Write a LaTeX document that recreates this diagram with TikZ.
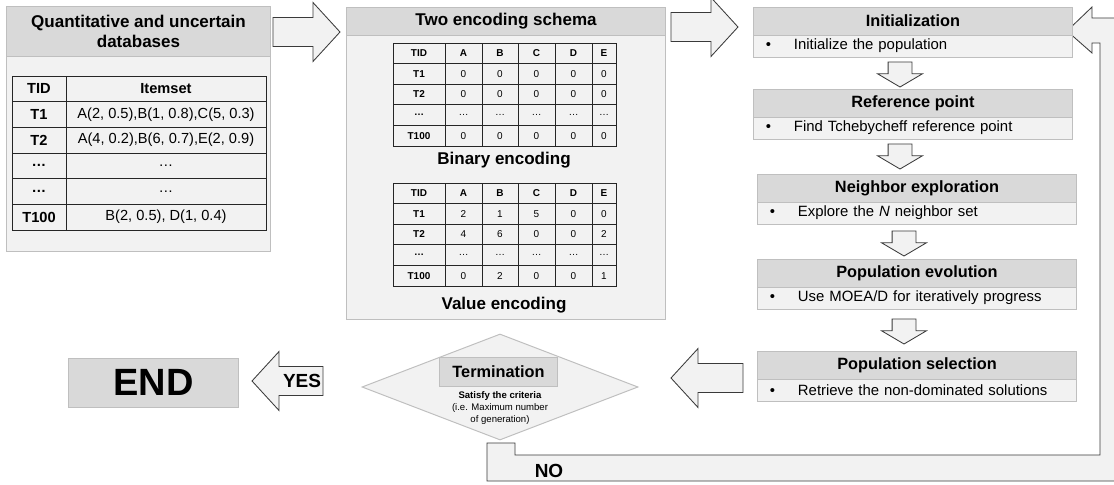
\documentclass[tikz,border=0pt]{standalone}
\usepackage{fontspec}
\setmainfont{Liberation Sans}
\usetikzlibrary{shapes.arrows,shapes.geometric,positioning}

\definecolor{headgray}{HTML}{D9D9D9}
\definecolor{fillgray}{HTML}{F2F2F2}
\definecolor{edgegray}{HTML}{BFBFBF}
\definecolor{arrowedge}{HTML}{3A3A3A}

\newcommand{\stepbullet}{\makebox[0.7cm][l]{\textbullet}}

\tikzset{
  panelhead/.style={draw=edgegray, fill=headgray, line width=0.7pt, inner sep=0pt, outer sep=0pt, align=center, font=\fontsize{12.1}{14.2}\selectfont\bfseries},
  panelbody/.style={draw=edgegray, fill=fillgray, line width=0.7pt, inner sep=0pt, outer sep=0pt, anchor=north},
  dbcell/.style={draw=black!85, line width=0.6pt, inner sep=0pt, minimum height=0.642cm, font=\fontsize{10.4}{12}\selectfont},
  tcell/.style={draw=black!85, line width=0.6pt, inner sep=0pt, minimum height=0.515cm, font=\fontsize{7.1}{8}\selectfont},
  caption/.style={inner sep=0pt, font=\fontsize{12.1}{14}\selectfont\bfseries},
  stephead/.style={draw=edgegray, fill=headgray, line width=0.7pt, minimum width=7.95cm, minimum height=0.7cm, inner sep=0pt, outer sep=0pt, font=\fontsize{11.6}{13}\selectfont\bfseries},
  stepbody/.style={draw=edgegray, fill=fillgray, line width=0.7pt, text width=7.35cm, minimum height=0.55cm, inner xsep=0.3cm, inner ysep=0pt, outer sep=0pt, align=left, anchor=north, font=\fontsize{10.6}{12}\selectfont},
  bigarrow/.style={single arrow, draw=arrowedge, fill=fillgray, line width=0.6pt, inner xsep=0pt, inner ysep=0.35cm, outer sep=0pt, single arrow head extend=0.375cm, single arrow tip angle=95, anchor=tip},
  downarrow/.style={single arrow, draw=arrowedge, fill=fillgray, line width=0.6pt, inner xsep=0pt, inner ysep=0.2875cm, outer sep=0pt, single arrow head extend=0.2625cm, single arrow tip angle=119, minimum height=0.625cm, rotate=-90, anchor=tip},
  bandarrow/.style={draw=arrowedge, fill=fillgray, line width=0.6pt},
  decision/.style={diamond, draw=edgegray, fill=fillgray, line width=0.7pt, inner sep=0pt, minimum width=6.9cm, minimum height=2.65cm},
  endbox/.style={draw=edgegray, fill=headgray, line width=0.7pt, minimum width=4.225cm, minimum height=1.225cm, font=\fontsize{27}{30}\selectfont\bfseries},
  answer/.style={inner sep=0pt, font=\fontsize{13.5}{15}\selectfont\bfseries}
}

\begin{document}
\begin{tikzpicture}[x=0.025cm, y=-0.025cm]
  \useasboundingbox (0,0) rectangle (1114,485);

  % loop back to the start
  \draw[bandarrow] (487,443) -- (515,443) -- (515,455) -- (1100,455) -- (1100,43) -- (1092,43)
    -- (1092,53) -- (1067,31) -- (1092,7) -- (1092,18) -- (1130,18) -- (1130,481) -- (487,481) -- cycle;
  \node[answer] (no) at (549,471) {NO};

  % database
  \node[panelhead, minimum width=6.575cm, minimum height=1.225cm] (dbhead) at (138.5,31.5) {Quantitative and uncertain\\databases};
  \node[panelbody, minimum width=6.575cm, minimum height=4.875cm] (dbbody) at (dbhead.south) {};
  \foreach \tid/\items [count=\r] in {TID/\textbf{Itemset}, T1/{A(2, 0.5),B(1, 0.8),C(5, 0.3)}, T2/{A(4, 0.2),B(6, 0.7),E(2, 0.9)}, \dots/\dots, \dots/\dots, T100/{B(2, 0.5), D(1, 0.4)}}{%
    \node[dbcell, minimum width=1.35cm] (K\r) at (39,{63.17+25.67*\r}) {\textbf{\tid}};
    \node[dbcell, minimum width=5cm] (I\r) at (166,{63.17+25.67*\r}) {\items};
  }

  \node[bigarrow, minimum height=1.675cm] (a1) at (340,32) {};

  % encodings
  \node[panelhead, minimum width=7.95cm, minimum height=0.7cm] (enchead) at (506,21) {Two encoding schema};
  \node[panelbody, minimum width=7.95cm, minimum height=7.1cm] (encbody) at (enchead.south) {};

  \begin{scope}[shift={(0,0)}]
    \foreach \tid/\va/\vb/\vc/\vd/\ve [count=\r] in {TID/A/B/C/D/E, T1/0/0/0/0/0, T2/0/0/0/0/0, \dots/\dots/\dots/\dots/\dots/\dots, T100/0/0/0/0/0}{%
      \foreach \cell/\cx/\cw [count=\k] in {\tid/419/1.3, \va/463.5/0.925, \vb/500/0.9, \vc/536.5/0.925, \vd/573.5/0.925, \ve/604/0.6}{%
        \node[tcell, minimum width=\cw cm] (B\r\k) at (\cx,{32.7+20.6*\r}) {\ifnum\r=1 \bfseries\fi\ifnum\k=1 \bfseries\fi\cell};
      }
    }
    \node[caption] (bincap) at (504,160) {Binary encoding};
  \end{scope}

  \begin{scope}[shift={(0,140)}]
    \foreach \tid/\va/\vb/\vc/\vd/\ve [count=\r] in {TID/A/B/C/D/E, T1/2/1/5/0/0, T2/4/6/0/0/2, \dots/\dots/\dots/\dots/\dots/\dots, T100/0/2/0/0/1}{%
      \foreach \cell/\cx/\cw [count=\k] in {\tid/419/1.3, \va/463.5/0.925, \vb/500/0.9, \vc/536.5/0.925, \vd/573.5/0.925, \ve/604/0.6}{%
        \node[tcell, minimum width=\cw cm] (V\r\k) at (\cx,{32.7+20.6*\r}) {\ifnum\r=1 \bfseries\fi\ifnum\k=1 \bfseries\fi\cell};
      }
    }
    \node[caption] (valcap) at (504,165) {Value encoding};
  \end{scope}

  \node[bigarrow, minimum height=1.675cm] (a2) at (738,27) {};

  % MOEA/D steps
  \node[stephead] (init) at (913,21) {Initialization};
  \node[stepbody] (initb) at (init.south) {\stepbullet Initialize the population};
  \node[downarrow] (d1) at (900,87) {};

  \node[stephead] (ref) at (913,103) {Reference point};
  \node[stepbody] (refb) at (ref.south) {\stepbullet Find Tchebycheff reference point};
  \node[downarrow] (d2) at (900,169) {};

  \node[stephead] (neigh) at (917,188) {Neighbor exploration};
  \node[stepbody] (neighb) at (neigh.south) {\stepbullet Explore the \textit{N} neighbor set};
  \node[downarrow] (d3) at (904,256) {};

  \node[stephead] (evol) at (917,273) {Population evolution};
  \node[stepbody] (evolb) at (evol.south) {\stepbullet Use MOEA/D for iteratively progress};
  \node[downarrow] (d4) at (904,344) {};

  \node[stephead] (sel) at (917,365) {Population selection};
  \node[stepbody] (selb) at (sel.south) {\stepbullet Retrieve the non-dominated solutions};

  \node[bigarrow, rotate=180, minimum height=1.8cm] (a3) at (671,378) {};

  % termination
  \node[decision] (term) at (500,387) {};
  \node[draw=edgegray, fill=headgray, line width=0.7pt, minimum width=2.925cm, minimum height=0.725cm, inner sep=0pt, font=\fontsize{11.6}{13}\selectfont\bfseries] (termbox) at (498.5,371.5) {Termination};
  \node[align=center, inner sep=0pt, font=\fontsize{6.8}{8.5}\selectfont] (crit) at (500,408) {\textbf{Satisfy the criteria}\\(i.e. Maximum number\\of generation)};

  \node[bigarrow, rotate=180, minimum height=1.775cm] (a4) at (252,381) {};
  \node[answer] (yes) at (302,381) {YES};

  \node[endbox] (end) at (153.5,382.5) {END};
\end{tikzpicture}
\end{document}
